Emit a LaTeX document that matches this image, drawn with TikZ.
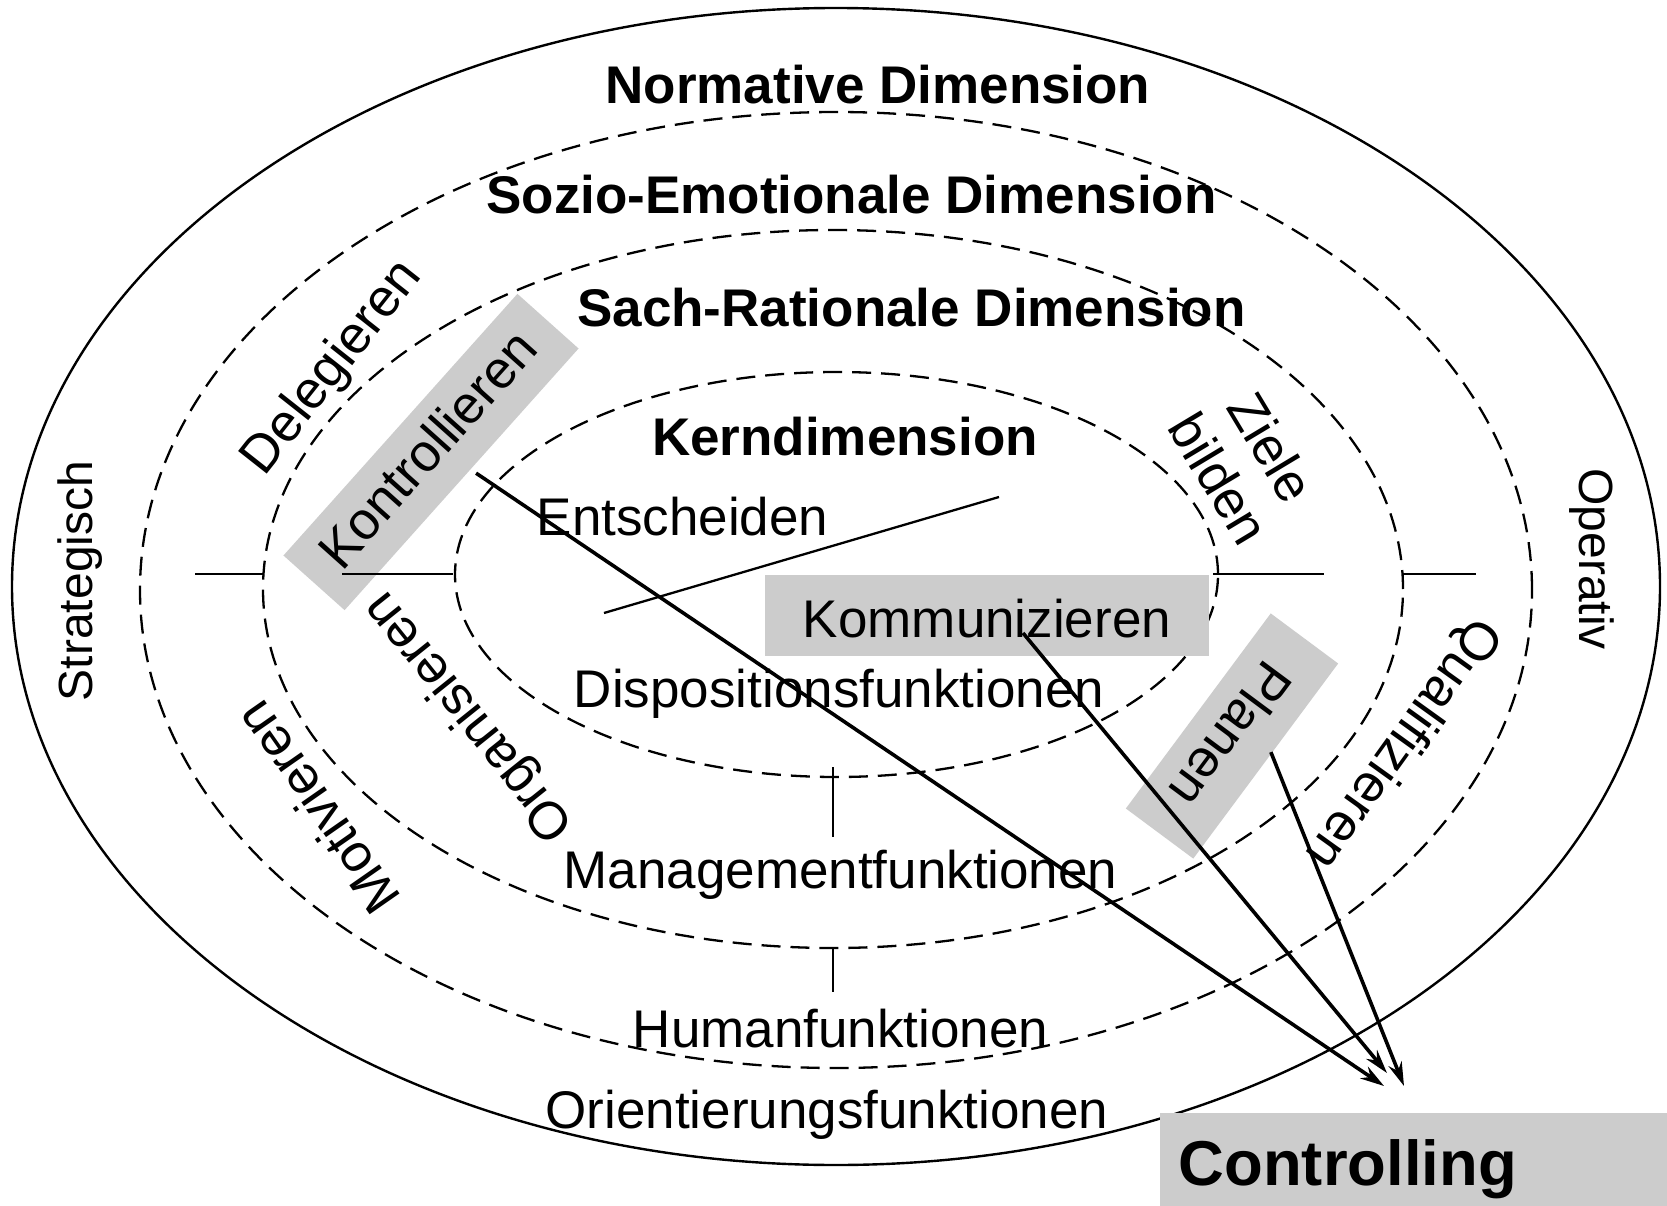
\documentclass[tikz,border=0pt]{standalone}
\usepackage{fontspec}
\setmainfont{Liberation Sans}
\usetikzlibrary{arrows.meta}
\definecolor{boxgray}{gray}{0.8}
\begin{document}
\begin{tikzpicture}[x=1pt,y=-1pt,
  ring/.style={line width=2.3pt, dash pattern=on 19pt off 10pt},
  rim/.style={line width=2.4pt},
  divider/.style={line width=2pt},
  txt/.style={inner sep=0pt, font=\fontsize{53}{61}\selectfont},
  head/.style={inner sep=0pt, font=\bfseries\fontsize{53}{61}\selectfont},
  rtxt/.style={txt, text height=38pt, text depth=10.6pt},
  side/.style={inner sep=0pt, font=\fontsize{48}{55}\selectfont, text height=34.5pt, text depth=9.6pt},
  tag/.style={txt, fill=boxgray},
  flow/.style={line width=3.6pt, -{Stealth[length=24pt,width=14pt]}}
]
\fill[white] (0,0) rectangle (1667,1206);
\useasboundingbox (0,0) rectangle (1667,1206);

% nested dimension rings
\draw[rim]  (836,586.5) ellipse [x radius=824pt, y radius=578.5pt];
\draw[ring] (836,590)   ellipse [x radius=696pt, y radius=478pt];
\draw[ring] (833,589)   ellipse [x radius=570pt, y radius=359pt];
\draw[ring] (836.5,574.5) ellipse [x radius=381.5pt, y radius=202.5pt];

% highlighted functions
\node[tag, rotate=48.2, minimum width=351pt, minimum height=82pt,
      text height=38pt, text depth=10.4pt] (kontr) at (431,452) {Kontrollieren};
\node[tag, minimum width=444pt, minimum height=81pt,
      text height=43pt, text depth=0pt] (komm) at (987,615.5) {Kommunizieren};
\node[tag, rotate=-126.6, minimum width=243pt, minimum height=84pt,
      text height=40pt, text depth=0pt] (plan) at (1232,736) {Planen};
\node[fill=boxgray, anchor=north west, inner xsep=18.5pt, inner ysep=0pt,
      text width=490pt, align=left, minimum height=112pt,
      text height=46pt, text depth=13.3pt,
      font=\bfseries\fontsize{63.4}{73}\selectfont] (ctrl) at (1160,1113) {Controlling};

% strategic / operative divider and function separators
\draw[divider] (195,574) -- (264,574);
\draw[divider] (342,574) -- (453,574);
\draw[divider] (1213,574) -- (1324,574);
\draw[divider] (1403,574) -- (1476,574);
\draw[divider] (833,767) -- (833,837);
\draw[divider] (833,948) -- (833,992);
\draw[line width=2.3pt] (604,613) -- (999,497);

% dimension titles
\node[head, anchor=base] (normd) at (878,104) {Normative Dimension};
\node[head, anchor=base] (sozd) at (851.5,214) {Sozio-Emotionale Dimension};
\node[head, anchor=base] (sachd) at (911.5,326) {Sach-Rationale Dimension};
\node[head, anchor=base] (kernd) at (845,455) {Kerndimension};

% function groups
\node[txt, anchor=base] (ents) at (682.5,535) {Entscheiden};
\node[txt, anchor=base] (dispf) at (839,707) {Dispositionsfunktionen};
\node[txt, anchor=base] (mgmtf) at (840.5,888) {Managementfunktionen};
\node[txt, anchor=base] (humf) at (840.5,1047) {Humanfunktionen};
\node[txt, anchor=base] (orif) at (827,1128) {Orientierungsfunktionen};

% side labels
\node[side, rotate=90] (strat) at (80.5,581) {Strategisch};
\node[side, rotate=-90] (oper) at (1591.5,559) {Operativ};

% functions set along the rings
\node[rtxt, rotate=51.7] (deleg) at (333,368) {Delegieren};
\node[rtxt, rotate=128.7] (organ) at (470,716) {Organisieren};
\node[rtxt, rotate=124.9] (motiv) at (321,805) {Motivieren};
\node[rtxt, rotate=-125.7] (quali) at (1401.5,742.5) {Qualifizieren};
\node[txt, rotate=-59, align=center] (ziele) at (1245.5,463) {Ziele\\bilden};

% links into controlling
\coordinate (tipK) at ([shift={(224,-27)}]ctrl.north west);
\coordinate (tipM) at ([shift={(227,-40)}]ctrl.north west);
\coordinate (tipP) at ([shift={(244,-27)}]ctrl.north west);
\draw[flow] ([shift={(14.4,-6.3)}]kontr.south) -- (tipK);
\draw[flow] ([shift={(36,17.5)}]komm.center) -- (tipM);
\draw[flow] ([shift={(5,-9)}]plan.north) -- (tipP);
\end{tikzpicture}
\end{document}
